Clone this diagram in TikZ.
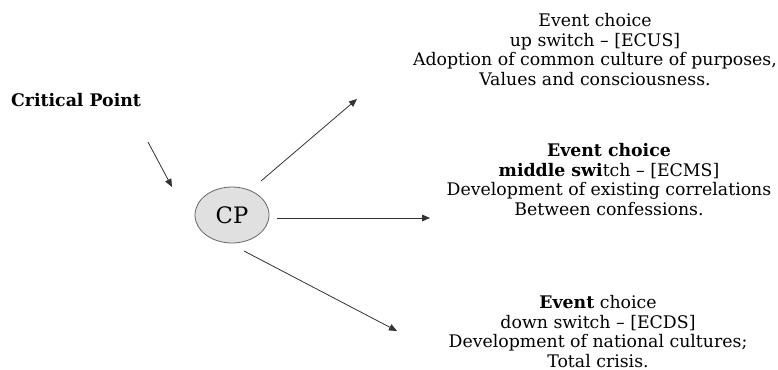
\documentclass[tikz,border=0pt]{standalone}
\usepackage{fontspec}
\setmainfont{DejaVu Serif}
\usetikzlibrary{arrows.meta,shapes.geometric}
\tikzset{
  conn/.style={draw=black!80, line width=0.6pt, -{Triangle[length=6pt,width=5pt]}},
  txt/.style={align=center, inner sep=0pt, font=\fontsize{13}{14.8}\selectfont},
  cpnode/.style={ellipse, draw=black!60, fill=black!12, line width=0.6pt, minimum width=55.5pt, minimum height=42pt, inner sep=0pt, font=\fontsize{17}{19}\selectfont}
}
\begin{document}
\begin{tikzpicture}[x=0.75pt,y=-0.75pt]
\useasboundingbox (0,0) rectangle (778,370);
\node[txt, font=\bfseries\fontsize{13}{14.8}\selectfont] (crit) at (76,100) {Critical Point};
\node[cpnode] (cp) at (232,215) {CP};
\node[txt] (up) at (595,49.5) {Event choice\\ up switch -- [ECUS]\\ Adoption of common culture of purposes,\\ Values and consciousness.};
\node[txt] (mid) at (609,179.5) {\textbf{Event choice}\\ \textbf{middle swi}tch -- [ECMS]\\ Development of existing correlations\\ Between confessions.};
\node[txt] (down) at (598,331.5) {\textbf{Event} choice\\ down switch -- [ECDS]\\ Development of national cultures;\\ Total crisis.};
\coordinate (c0) at (148,142);
\coordinate (c1) at (172,187);
\coordinate (u0) at (261,181);
\coordinate (u1) at (357,99);
\coordinate (m0) at (277,218);
\coordinate (m1) at (430,218);
\coordinate (d0) at (244,251);
\coordinate (d1) at (397,331);
\draw[conn] (c0) -- (c1);
\draw[conn] (u0) -- (u1);
\draw[conn] (m0) -- (m1);
\draw[conn] (d0) -- (d1);
\end{tikzpicture}
\end{document}
